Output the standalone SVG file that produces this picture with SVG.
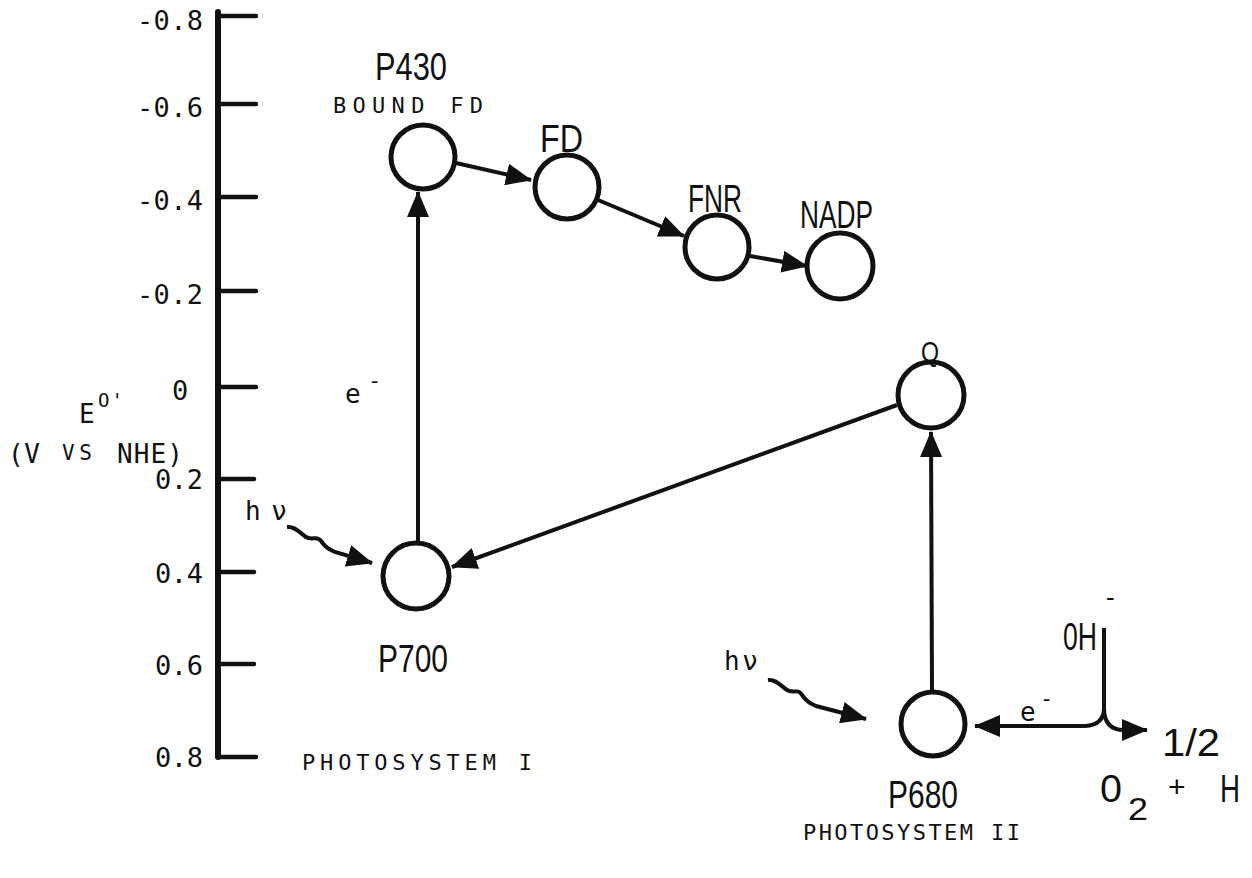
<svg xmlns="http://www.w3.org/2000/svg" width="1252" height="878" viewBox="0 0 1252 878">
<style>
.mono{font-family:"DejaVu Sans Mono","Liberation Mono",monospace;fill:#111}
.cond{font-family:"Liberation Sans Narrow","Liberation Sans","DejaVu Sans",sans-serif;fill:#111}
.node{fill:none;stroke:#111;stroke-width:5}
.ax{stroke:#111;stroke-width:6;fill:none;stroke-linecap:round}
.tick{stroke:#111;stroke-width:4.5;fill:none;stroke-linecap:round}
.con{stroke:#111;stroke-width:4;fill:none}
</style>
<defs>
<marker id="ah" markerWidth="26" markerHeight="22" refX="25" refY="11" orient="auto-start-reverse" markerUnits="userSpaceOnUse">
<path d="M0,0 L26,11 L0,22 z" fill="#111"/>
</marker>
</defs>
<rect width="1252" height="878" fill="#fff"/>

<g id="axis">
<path class="ax" d="M218,12 L218,757"/>
<path class="tick" d="M218,16 L256,16 M218,104 L256,104 M218,197 L256,197 M218,291 L256,291 M218,387 L256,387 M218,479 L254,479 M218,572 L254,572 M218,664 L254,664 M218,757 L256,757"/>
<g class="mono" font-size="27">
<text x="137" y="30" textLength="66" lengthAdjust="spacing">-0.8</text>
<text x="137" y="117" textLength="66" lengthAdjust="spacing">-0.6</text>
<text x="137" y="210" textLength="66" lengthAdjust="spacing">-0.4</text>
<text x="137" y="304" textLength="66" lengthAdjust="spacing">-0.2</text>
<text x="172" y="400">0</text>
<text x="155" y="489" textLength="48" lengthAdjust="spacing">0.2</text>
<text x="155" y="583" textLength="48" lengthAdjust="spacing">0.4</text>
<text x="155" y="675" textLength="48" lengthAdjust="spacing">0.6</text>
<text x="155" y="767" textLength="48" lengthAdjust="spacing">0.8</text>
</g>
<g class="mono">
<text x="79" y="423" font-size="26">E</text>
<text x="98" y="407" font-size="19" textLength="25" lengthAdjust="spacing">O'</text>
<text x="8" y="463" font-size="26" textLength="32" lengthAdjust="spacing">(V</text>
<text x="62" y="460" font-size="21" textLength="30" lengthAdjust="spacing">VS</text>
<text x="117" y="463" font-size="26" textLength="66" lengthAdjust="spacing">NHE)</text>
</g>
</g>

<g id="connectors">
<path class="con" stroke-width="3.5" d="M418,543 L418,192" marker-end="url(#ah)"/>
<path class="con" d="M456,163 L531,180" marker-end="url(#ah)"/>
<path class="con" d="M598,200 L684,236" marker-end="url(#ah)"/>
<path class="con" d="M750,256 L807,266" marker-end="url(#ah)"/>
<path class="con" d="M897,405 L452,567" marker-end="url(#ah)"/>
<path class="con" stroke-width="3.5" d="M932,692 L931,432" marker-end="url(#ah)"/>
<path class="con" stroke-width="3" d="M287,527 C295,526 300,533 306,537 C312,541 317,535 321,541 C326,548 329,549 335,552 L372,563" marker-end="url(#ah)"/>
<path class="con" stroke-width="3" d="M768,680 C776,679 781,686 787,690 C793,694 798,688 802,695 C807,702 810,703 816,706 L866,719" marker-end="url(#ah)"/>
<path class="con" stroke-width="4.5" d="M1104,628 L1104,708 Q1104,725 1085,726 L975,726" marker-end="url(#ah)"/>
<path class="con" stroke-width="4.5" d="M1104,708 Q1104,730 1124,730 L1147,730" marker-end="url(#ah)"/>
</g>

<g id="P430">
<circle class="node" cx="423" cy="157" r="32"/>
<text class="cond" x="375" y="80" font-size="39" textLength="72" lengthAdjust="spacingAndGlyphs">P430</text>
<text class="mono" x="333" y="113" font-size="22" textLength="150" lengthAdjust="spacing">BOUND FD</text>
</g>
<g id="FD">
<circle class="node" cx="567" cy="187" r="32"/>
<text class="cond" x="540" y="152" font-size="39" textLength="43" lengthAdjust="spacingAndGlyphs">FD</text>
</g>
<g id="FNR">
<circle class="node" cx="717" cy="247" r="32"/>
<text class="cond" x="688" y="212" font-size="39" textLength="54" lengthAdjust="spacingAndGlyphs">FNR</text>
</g>
<g id="NADP">
<circle class="node" cx="840" cy="266" r="33"/>
<text class="cond" x="800" y="228" font-size="39" textLength="73" lengthAdjust="spacingAndGlyphs">NADP</text>
</g>
<g id="Q">
<circle class="node" cx="931" cy="395" r="33"/>
<text class="cond" x="921" y="362" font-size="30" textLength="18" lengthAdjust="spacingAndGlyphs">Q</text>
</g>
<g id="P700">
<circle class="node" cx="416" cy="576" r="33"/>
<text class="cond" x="378" y="672" font-size="39" textLength="70" lengthAdjust="spacingAndGlyphs">P700</text>
<text class="mono" x="302" y="770" font-size="22" textLength="230" lengthAdjust="spacing">PHOTOSYSTEM I</text>
<text class="mono" x="245" y="520" font-size="26" textLength="42" lengthAdjust="spacing">hν</text>
<text class="mono" x="345" y="403" font-size="26">e</text>
<text class="mono" x="368" y="388" font-size="22">-</text>
</g>
<g id="P680">
<circle class="node" cx="933" cy="724" r="32"/>
<text class="cond" x="888" y="808" font-size="39" textLength="70" lengthAdjust="spacingAndGlyphs">P680</text>
<text class="mono" x="803" y="840" font-size="22" textLength="217" lengthAdjust="spacing">PHOTOSYSTEM II</text>
<text class="mono" x="724" y="670" font-size="26" textLength="34" lengthAdjust="spacing">hν</text>
<text class="mono" x="1020" y="721" font-size="26">e</text>
<text class="mono" x="1040" y="706" font-size="22">-</text>
</g>
<g id="water">
<text class="cond" x="1063" y="650" font-size="39" textLength="34" lengthAdjust="spacingAndGlyphs">0H</text>
<text class="cond" x="1106" y="606" font-size="26">-</text>
<text class="cond" x="1162" y="756" font-size="39" textLength="58" lengthAdjust="spacingAndGlyphs">1/2</text>
<text class="cond" x="1100" y="802" font-size="39" textLength="22" lengthAdjust="spacingAndGlyphs">0</text>
<text class="cond" x="1128" y="820" font-size="32" textLength="20" lengthAdjust="spacingAndGlyphs">2</text>
<text class="cond" x="1168" y="797" font-size="30">+</text>
<text class="cond" x="1220" y="802" font-size="39" textLength="20" lengthAdjust="spacingAndGlyphs">H</text>
</g>
</svg>
